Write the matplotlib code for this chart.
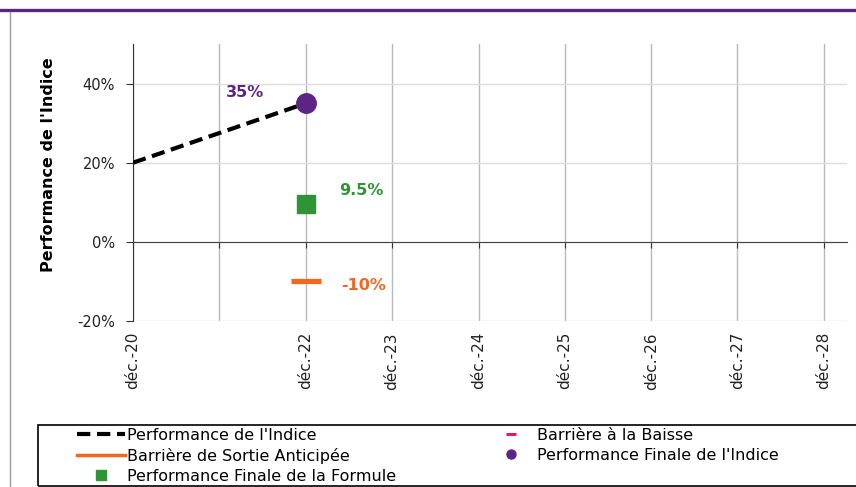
import datetime as dt
import matplotlib.pyplot as plt
import matplotlib.dates as mdates
from matplotlib.lines import Line2D
from matplotlib.patches import Rectangle
import matplotlib.transforms as mtransforms

# data
tick_dates = [dt.date(y, 12, 1) for y in range(2020, 2029)]
tick_labels = ["déc.-20", "", "déc.-22", "déc.-23", "déc.-24",
               "déc.-25", "déc.-26", "déc.-27", "déc.-28"]
yticks = [-20, 0, 20, 40]

index_dates = [dt.date(2020, 12, 1), dt.date(2022, 12, 1)]
index_perf = [20, 35]

obs_date = dt.date(2022, 12, 1)
final_index = 35
final_formula = 9.5
barrier_exit = -10
barrier_down = -60  # below the visible range

purple = "#5c2483"
green = "#2e9436"
orange = "#f26722"
pink = "#e6195f"

fig = plt.figure(figsize=(8.56, 4.87), dpi=100)
ax = fig.add_axes([133 / 856, 1 - 321 / 487, 714 / 856, 277 / 487])

dash = (0, (3.2, 1.6))
ax.plot(index_dates, index_perf, color="black", lw=3, ls=dash, zorder=3)
ax.plot([obs_date], [barrier_down], ls="none", marker="_", color=pink,
        ms=10, mew=2.5)
ax.plot([obs_date], [barrier_exit], ls="none", marker="_", color=orange,
        ms=22, mew=3.8, zorder=4)
ax.plot([obs_date], [final_index], ls="none", marker="o", color=purple,
        ms=14, zorder=5)
ax.plot([obs_date], [final_formula], ls="none", marker="s", color=green,
        ms=13, zorder=5)

ax.annotate(f"{final_index:g}%", (obs_date, final_index), xytext=(-44, 8),
            textcoords="offset points", color=purple, fontweight="bold",
            fontsize=11.5, ha="center", va="center")
ax.annotate(f"{final_formula:g}%", (obs_date, final_formula), xytext=(40, 10),
            textcoords="offset points", color=green, fontweight="bold",
            fontsize=11.5, ha="center", va="center")
ax.annotate(f"{barrier_exit:g}%", (obs_date, barrier_exit), xytext=(42, -3),
            textcoords="offset points", color=orange, fontweight="bold",
            fontsize=11.5, ha="center", va="center")

ax.set_ylim(-20, 50)
ax.set_xlim(tick_dates[0], mdates.num2date(mdates.date2num(tick_dates[-1]) + 97))
ax.set_yticks(yticks)
ax.set_yticklabels([f"{v}%" for v in yticks], fontsize=10.5, color="#222222")
ax.set_xticks(tick_dates)
ax.tick_params(axis="x", labelbottom=False, length=4, direction="out",
               color="#333333")
ax.tick_params(axis="y", length=5, color="#333333", pad=8)

ax.grid(axis="x", color="#b8b8b8", lw=1)
ax.grid(axis="y", color="#dedede", lw=1)
ax.set_axisbelow(True)
for s in ["top", "right"]:
    ax.spines[s].set_visible(False)
ax.spines["bottom"].set_position(("data", 0))
ax.spines["bottom"].set_color("#444444")
ax.spines["left"].set_color("#333333")

trans = mtransforms.blended_transform_factory(ax.transData, ax.transAxes)
for d, lab in zip(tick_dates, tick_labels):
    ax.text(d, -0.04, lab, transform=trans, rotation=90, ha="center",
            va="top", fontsize=11, color="#222222")

ax.set_ylabel("Performance de l'Indice", fontsize=11.5, fontweight="bold")
ax.yaxis.set_label_coords(-0.108, 0.565)

fig.add_artist(Line2D([0, 1], [1 - 10 / 487] * 2, color=purple, lw=2.4))
fig.add_artist(Line2D([10 / 856] * 2, [0, 1 - 12 / 487], color="#9a9a9a", lw=1))

# legend: two columns + a frame
h1 = [Line2D([], [], color="black", lw=3, ls=dash),
      Line2D([], [], color=orange, lw=2.5),
      Line2D([], [], ls="none", marker="s", color=green, ms=7)]
l1 = ["Performance de l'Indice", "Barrière de Sortie Anticipée",
      "Performance Finale de la Formule"]
h2 = [Line2D([], [], ls="none", marker="_", color=pink, ms=7, mew=2.2),
      Line2D([], [], ls="none", marker="o", color=purple, ms=6.5)]
l2 = ["Barrière à la Baisse", "Performance Finale de l'Indice"]

common = dict(loc="upper left", frameon=False, fontsize=11.5, handlelength=3.0,
              handletextpad=0.15, labelspacing=0.3, borderpad=0,
              borderaxespad=0)
leg1 = fig.legend(h1, l1, bbox_to_anchor=(77 / 856, 1 - 428 / 487), **common)
leg2 = fig.legend(h2, l2, bbox_to_anchor=(487 / 856, 1 - 428 / 487), **common)
fig.add_artist(Rectangle((38 / 856, 1 / 487), 830 / 856, 61 / 487,
                         transform=fig.transFigure, fill=False,
                         edgecolor="black", lw=1.2))

fig.savefig("out.png", dpi=100)
